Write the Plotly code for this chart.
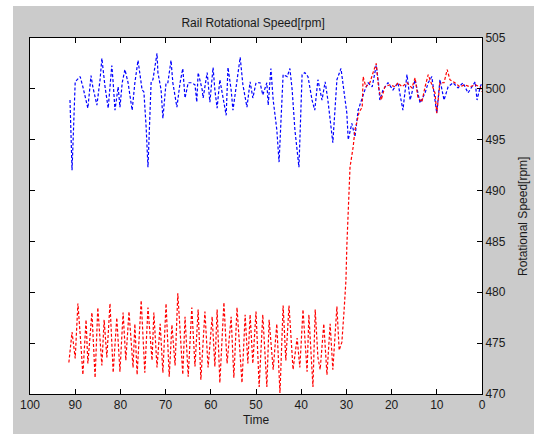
import plotly.graph_objects as go

blue_t = [91.15, 90.7, 90.0, 88.9, 88.3, 87.2, 86.5, 86.1, 85.2, 84.5, 84.1, 83.4, 82.7, 81.9, 81.6, 81.2,
          80.5, 80.1, 79.6, 79.0, 78.3, 77.4, 76.8, 76.1, 75.2, 74.8, 74.3, 73.9, 73.2, 72.8, 71.9, 71.7,
          71.0, 70.6, 69.9, 69.5, 68.8, 68.4, 67.5, 66.8, 66.2, 65.7, 65.0, 64.2, 63.5, 63.1, 62.8, 61.9,
          61.7, 60.8, 60.2, 59.5, 59.1, 58.6, 58.0, 57.3, 56.6, 56.2, 55.5, 55.1, 54.2, 53.5, 52.9, 52.0,
          51.3, 50.7, 50.0, 49.1, 48.5, 47.6, 47.3, 46.7, 46.2, 45.4, 44.9, 44.2, 44.0, 43.1, 42.5, 42.0,
          41.4, 40.5, 39.8, 39.2, 38.5, 37.6, 37.0, 36.3, 35.4, 34.7, 34.1, 33.0, 32.5, 32.1, 31.2, 30.5,
          29.9, 29.6, 28.8, 28.1, 27.4, 26.5, 25.9, 25.2, 24.3, 23.4, 22.9, 22.6, 21.9, 20.8, 19.7, 18.6,
          17.5, 16.6, 15.9, 14.8, 13.7, 12.6, 11.9, 11.1, 10.0, 9.3, 8.4, 7.5, 6.4, 5.3, 4.2, 3.1, 2.2,
          1.5, 1.1, 0.4, 0.0]
blue_v = [498.9, 492.0, 500.7, 501.2, 500.2, 498.1, 501.3, 500.2, 498.4, 500.9, 503.0, 500.2, 498.1, 502.3,
          500.6, 497.9, 500.2, 498.2, 500.6, 501.9, 500.6, 497.9, 500.6, 502.8, 499.9, 499.7, 496.2, 492.3,
          500.7, 500.9, 503.5, 501.6, 499.9, 497.1, 500.6, 500.6, 502.8, 500.6, 498.2, 500.6, 502.0, 499.1,
          500.6, 500.6, 500.4, 498.7, 501.6, 499.9, 499.1, 501.6, 498.7, 502.1, 499.9, 498.1, 500.9, 499.2,
          497.4, 502.1, 499.9, 497.9, 500.9, 503.1, 500.4, 498.2, 500.7, 499.1, 500.6, 500.6, 499.4, 500.6,
          498.4, 502.0, 498.9, 496.0, 492.8, 498.9, 501.4, 501.2, 502.0, 499.9, 496.0, 492.3, 501.4, 501.6,
          501.2, 498.9, 497.9, 500.9, 498.9, 500.7, 498.9, 494.7, 498.2, 500.9, 502.0, 499.9, 497.6, 495.0,
          496.6, 495.3, 497.9, 499.1, 499.9, 500.6, 500.2, 502.3, 500.6, 498.9, 499.9, 500.6, 499.9, 500.6,
          497.9, 501.4, 498.9, 500.9, 498.6, 499.6, 500.6, 501.2, 497.6, 500.9, 498.9, 500.2, 500.6, 500.1,
          500.6, 499.6, 500.2, 500.7, 498.9, 500.2, 500.6]

red_t = [91.4, 90.7, 90.0, 89.4, 88.7, 88.3, 87.6, 87.2, 86.3, 85.6, 85.0, 84.1, 83.6, 83.0, 82.3, 81.6,
         80.8, 80.1, 79.4, 78.8, 78.1, 77.2, 76.8, 76.3, 75.4, 74.6, 73.9, 73.0, 72.6, 71.9, 71.2, 70.6,
         69.9, 69.2, 68.6, 67.9, 67.3, 66.2, 65.7, 65.0, 64.2, 63.5, 62.8, 62.2, 61.3, 60.6, 59.7, 59.1,
         58.6, 58.0, 57.1, 56.4, 55.5, 54.9, 54.2, 53.1, 52.4, 51.8, 51.3, 50.7, 50.0, 49.3, 48.5, 47.6,
         47.1, 46.2, 45.4, 44.7, 44.0, 43.4, 42.7, 41.8, 40.9, 40.3, 39.6, 38.7, 38.3, 37.4, 36.9, 36.3,
         35.8, 35.0, 34.3, 33.6, 33.0, 32.1, 31.6, 31.0, 30.5, 30.1, 29.9, 29.6, 29.2, 28.5, 28.1, 27.7,
         27.2, 26.5, 26.3, 25.7, 24.8, 24.1, 23.4, 22.9, 22.3, 21.5, 20.4, 19.2, 18.6, 17.7, 16.6, 15.5,
         14.8, 14.2, 13.3, 12.6, 11.9, 11.1, 10.4, 10.0, 9.3, 8.4, 7.7, 7.1, 6.0, 4.9, 3.8, 2.7, 1.5,
         0.4, 0.0]
red_v = [473.1, 476.1, 473.5, 478.9, 474.6, 471.9, 477.3, 473.0, 478.0, 471.6, 478.5, 472.8, 477.3, 473.6,
         478.9, 472.1, 477.5, 472.2, 478.0, 473.3, 478.1, 472.6, 476.9, 471.9, 479.2, 472.1, 478.5, 473.3,
         478.0, 472.6, 476.9, 472.1, 478.9, 471.7, 476.8, 472.8, 479.9, 471.9, 477.6, 471.7, 478.5, 472.7,
         478.3, 471.4, 478.1, 472.6, 477.6, 472.7, 478.3, 471.1, 479.0, 473.0, 477.6, 471.6, 478.5, 471.1,
         477.8, 473.0, 477.8, 473.0, 478.1, 470.7, 477.8, 470.7, 477.3, 472.4, 476.9, 470.1, 478.7, 473.3,
         478.7, 472.4, 475.5, 472.6, 478.3, 472.2, 477.8, 470.7, 478.3, 473.6, 472.4, 476.9, 471.9, 476.9,
         472.4, 478.6, 474.3, 475.1, 478.3, 481.2, 484.6, 488.6, 492.3, 494.3, 496.0, 496.7, 497.7, 498.2,
         501.2, 500.2, 500.6, 501.6, 502.5, 500.2, 498.9, 500.2, 500.4, 500.2, 500.6, 500.2, 500.6, 500.1,
         501.1, 499.2, 498.7, 500.2, 501.4, 500.4, 499.6, 497.6, 500.6, 500.6, 501.9, 500.9, 500.6, 500.2,
         500.4, 500.2, 500.4, 500.2, 499.7]

x_ticks = [0, 10, 20, 30, 40, 50, 60, 70, 80, 90, 100]
y_ticks = [470, 475, 480, 485, 490, 495, 500, 505]

FONT = "Liberation Sans, Arial, sans-serif"
GRAY = "#cbcbcb"
TXT = "#1a1a1a"

fig = go.Figure()
fig.add_trace(go.Scatter(x=blue_t, y=blue_v, mode="lines",
                         line=dict(color="#0000ff", width=1.2, dash="3px,2px"), showlegend=False))
fig.add_trace(go.Scatter(x=red_t, y=red_v, mode="lines",
                         line=dict(color="#ff0000", width=1.2, dash="3px,2px"), showlegend=False))

axis_common = dict(showline=True, linecolor="black", linewidth=1, mirror="ticks",
                   ticks="inside", ticklen=5, tickcolor="black", showgrid=False, zeroline=False,
                   automargin=False, tickfont=dict(family=FONT, size=12, color=TXT))

fig.update_xaxes(range=[100, 0], tickvals=x_ticks, ticktext=[str(v) for v in x_ticks],
                 title=dict(text="Time", font=dict(family=FONT, size=12, color=TXT), standoff=4),
                 **axis_common)
fig.update_yaxes(range=[470, 505], tickvals=y_ticks, side="right", **axis_common)

fig.update_layout(
    width=534, height=434,
    margin=dict(l=30, r=52, t=38, b=40),
    paper_bgcolor=GRAY, plot_bgcolor="white",
    title=dict(text="Rail Rotational Speed[rpm]", x=0.474, xanchor="center", y=0.947, yanchor="middle",
               font=dict(family=FONT, size=12, color=TXT)),
    annotations=[
        dict(text="Rotational Speed[rpm]", xref="paper", yref="paper", x=1.0907, y=0.5,
             xanchor="center", yanchor="middle", textangle=-90, showarrow=False,
             font=dict(family=FONT, size=12, color=TXT)),
    ],
    shapes=[
        dict(type="rect", xref="paper", yref="paper", x0=-0.1, x1=-0.0376, y0=-0.2, y1=1.2,
             fillcolor="white", line=dict(width=0), layer="above"),
        dict(type="rect", xref="paper", yref="paper", x0=-0.1, x1=1.2, y0=1.0899, y1=1.2,
             fillcolor="white", line=dict(width=0), layer="above"),
    ],
)

fig.write_html("out.html")
